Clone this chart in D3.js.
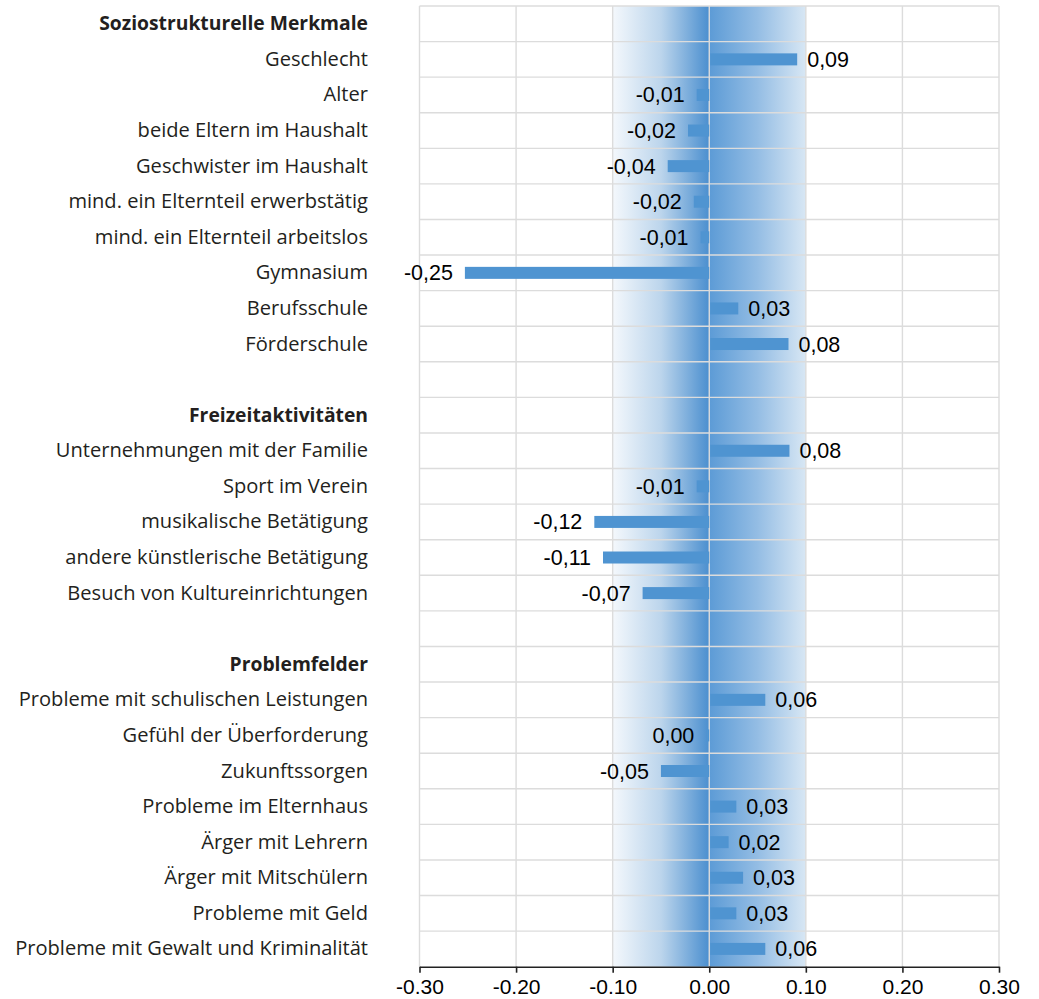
<!DOCTYPE html>
<html>
<head>
<meta charset="utf-8">
<script src="https://cdn.jsdelivr.net/npm/d3@7"></script>
<style>
  body { margin: 0; background: #fff; }
  svg { display: block; }
</style>
</head>
<body>
<script>
// rows top to bottom; "" is an empty spacer row
const categories = [
    "Soziostrukturelle Merkmale", "Geschlecht", "Alter", "beide Eltern im Haushalt",
    "Geschwister im Haushalt", "mind. ein Elternteil erwerbstätig", "mind. ein Elternteil arbeitslos",
    "Gymnasium", "Berufsschule", "Förderschule", "",
    "Freizeitaktivitäten", "Unternehmungen mit der Familie", "Sport im Verein",
    "musikalische Betätigung", "andere künstlerische Betätigung", "Besuch von Kultureinrichtungen", "",
    "Problemfelder", "Probleme mit schulischen Leistungen", "Gefühl der Überforderung",
    "Zukunftssorgen", "Probleme im Elternhaus", "Ärger mit Lehrern", "Ärger mit Mitschülern",
    "Probleme mit Geld", "Probleme mit Gewalt und Kriminalität"
];
const headers = ["Soziostrukturelle Merkmale", "Freizeitaktivitäten", "Problemfelder"];
// null = no bar (header or spacer)
const values = [
    null, 0.090, -0.013, -0.022, -0.043, -0.016, -0.009, -0.253, 0.029, 0.081, null,
    null, 0.082, -0.013, -0.119, -0.110, -0.069, null,
    null, 0.057, -0.003, -0.050, 0.027, 0.019, 0.034, 0.027, 0.057
];
const ticks = [-0.3, -0.2, -0.1, 0, 0.1, 0.2, 0.3];
const band = [-0.1, 0.1];

const W = 1039, H = 999;
const m = {top: 6, left: 419.5, right: 40, bottom: 32.3};

const svg = d3.select("body").append("svg").attr("width", W).attr("height", H);

const x = d3.scaleLinear().domain([-0.3, 0.3]).range([m.left, W - m.right]);
const y = d3.scaleBand().domain(d3.range(categories.length)).range([m.top, H - m.bottom]);

// gradient band around zero
const defs = svg.append("defs");
const grad = defs.append("linearGradient").attr("id", "band")
    .attr("gradientUnits", "userSpaceOnUse")
    .attr("x1", x(band[0])).attr("x2", x(band[1])).attr("y1", 0).attr("y2", 0);
grad.append("stop").attr("offset", "0%").attr("stop-color", "#f4f8fc");
grad.append("stop").attr("offset", "25%").attr("stop-color", "#bcd5ec");
grad.append("stop").attr("offset", "49.9%").attr("stop-color", "#4b8fcf");
grad.append("stop").attr("offset", "50%").attr("stop-color", "#5c9bd6");
grad.append("stop").attr("offset", "75%").attr("stop-color", "#94bde4");
grad.append("stop").attr("offset", "100%").attr("stop-color", "#d8e7f4");

svg.append("rect")
    .attr("x", x(band[0])).attr("width", x(band[1]) - x(band[0]))
    .attr("y", m.top).attr("height", y.range()[1] - m.top)
    .attr("fill", "url(#band)");

// grid
const grid = svg.append("g").attr("stroke", "#dcdcdc").attr("stroke-width", 1.4);
grid.selectAll("line.v").data(ticks).join("line")
    .attr("x1", d => x(d)).attr("x2", d => x(d))
    .attr("y1", m.top).attr("y2", y.range()[1]);
grid.selectAll("line.h").data(d3.range(categories.length)).join("line")
    .attr("x1", x(-0.3)).attr("x2", x(0.3))
    .attr("y1", d => y(d)).attr("y2", d => y(d));

// bars
const rows = values.map((v, i) => ({i, v})).filter(d => d.v !== null);
const barH = 12;
svg.append("g").selectAll("rect").data(rows).join("rect")
    .attr("x", d => Math.min(x(0), x(d.v)) + (d.v > 0 ? 1 : 0))
    .attr("width", d => Math.abs(x(d.v) - x(0)))
    .attr("y", d => y(d.i) + y.bandwidth() / 2 - barH / 2)
    .attr("height", barH)
    .attr("fill", "#4f94d1");

// value labels
const fmt = v => {
    let s = v.toFixed(2).replace(".", ",");
    return s === "-0,00" ? "0,00" : s;
};
svg.append("g")
    .attr("font-family", "Liberation Sans, Arial, sans-serif")
    .attr("font-size", 21.5).attr("fill", "#000")
    .selectAll("text").data(rows).join("text")
    .attr("x", d => d.v > 0 ? x(d.v) + 11 : x(d.v) - 12)
    .attr("y", d => y(d.i) + y.bandwidth() / 2 + 7.5)
    .attr("text-anchor", d => d.v > 0 ? "start" : "end")
    .text(d => fmt(d.v));

// category labels
const cats = svg.append("g")
    .attr("font-family", "'Open Sans', 'Noto Sans', sans-serif")
    .attr("fill", "#231f20")
    .selectAll("text").data(categories).join("text")
    .attr("x", 368)
    .attr("y", (d, i) => y(i) + y.bandwidth() / 2 + 6.5)
    .attr("text-anchor", "end")
    .attr("font-weight", d => headers.includes(d) ? "bold" : null)
    .attr("font-size", 18)
    .text(d => d);
// squeeze fonts to the widths of the reference's labels
const fit = (label, width) => 18 * width / cats.filter(d => d === label).node().getComputedTextLength();
const fsNormal = fit("Probleme mit Gewalt und Kriminalität", 353);
const fsBold = fit("Soziostrukturelle Merkmale", 269);
cats.attr("font-size", d => headers.includes(d) ? fsBold : fsNormal);

// bottom axis
const axis = svg.append("g")
    .attr("transform", `translate(0,${y.range()[1]})`)
    .call(d3.axisBottom(x).tickValues(ticks).tickFormat(d3.format(".2f")).tickSize(6).tickSizeOuter(0));
axis.select(".domain").attr("stroke", "#222").attr("stroke-width", 1.6);
axis.selectAll(".tick line").attr("stroke", "#222").attr("stroke-width", 1.6);
axis.selectAll(".tick text")
    .attr("font-family", "Liberation Sans, Arial, sans-serif")
    .attr("font-size", 21).attr("fill", "#000")
    .attr("dy", null).attr("y", 27)
    .text(d => d3.format(".2f")(d).replace("−", "-"));
</script>
</body>
</html>
